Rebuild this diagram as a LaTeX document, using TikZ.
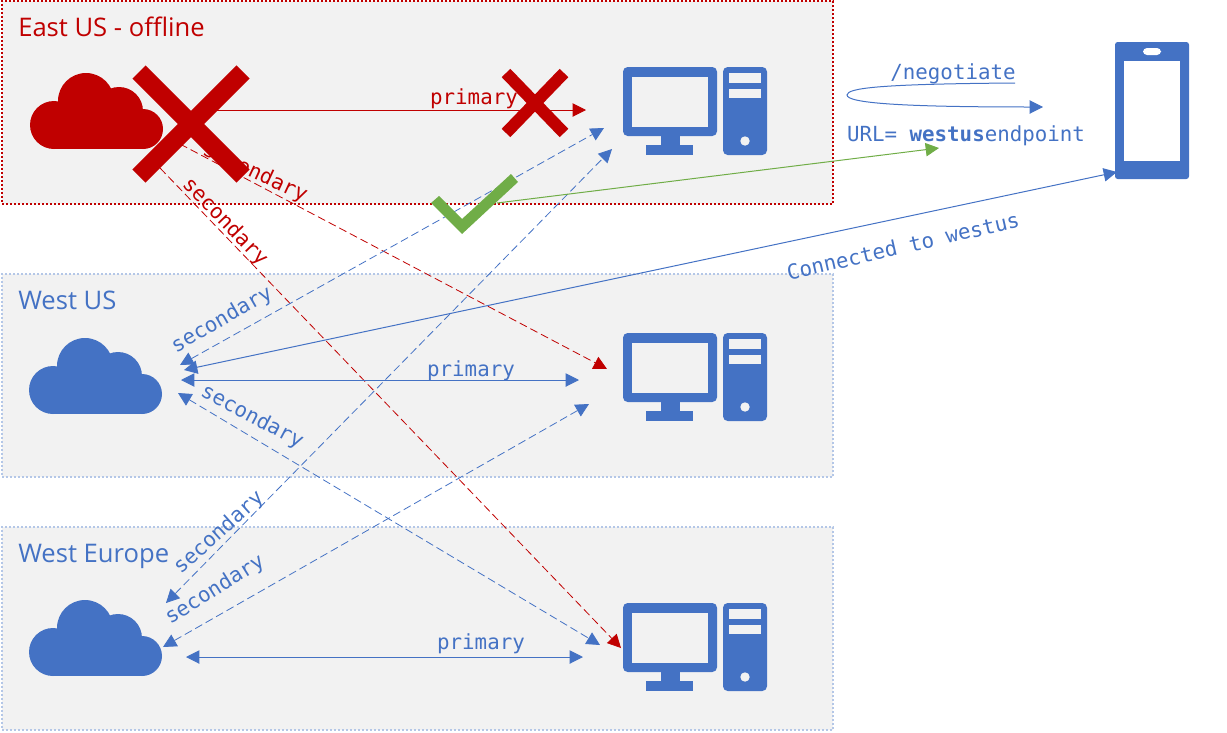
\documentclass[tikz,border=0pt]{standalone}
\usepackage{fontspec}
\setmainfont{Open Sans}
\setmonofont{DejaVu Sans Mono}
\usetikzlibrary{arrows.meta}
\definecolor{AzRed}{HTML}{C00000}
\definecolor{AzBlue}{HTML}{4472C4}
\definecolor{AzGreen}{HTML}{70AD47}
\definecolor{AzGrey}{HTML}{F2F2F2}
\definecolor{AzPale}{HTML}{B4C7E7}
\tikzset{
  regionbox/.style={anchor=north west,fill=AzGrey,inner sep=0pt,outer sep=0pt,minimum width=831*0.75pt,minimum height=203*0.75pt,dash pattern=on 1.5pt off 1.5pt,line width=1.4pt,draw=AzPale},
  regionlabel/.style={anchor=base west,inner sep=0pt,font=\fontsize{19.2}{22}\selectfont,text=AzBlue},
  linklabel/.style={inner sep=0pt,font=\ttfamily\fontsize{15.6}{18}\selectfont,text=AzBlue},
  solidlink/.style={{Triangle[length=10pt,width=10pt]}-{Triangle[length=10pt,width=10pt]},line width=0.75pt,draw=AzBlue},
  dashlink/.style={solidlink,line width=0.6pt,dash pattern=on 6pt off 3pt},
  redlink/.style={-{Triangle[length=10pt,width=10pt]},line width=0.75pt,draw=AzRed},
  reddash/.style={redlink,line width=0.6pt,dash pattern=on 6pt off 3pt},
  greenlink/.style={-{Triangle[length=10pt,width=10pt]},line width=0.75pt,draw=AzGreen},
  crossbar/.style={draw=AzRed},
  cloudicon/.pic={
    \path[pic actions] (24,52) circle (24);
    \path[pic actions] (56,28) circle (28);
    \path[pic actions] (89,38) circle (24);
    \path[pic actions] (113,56) circle (20);
    \path[pic actions] (24,38) rectangle (113,76);
  },
  computericon/.pic={
    \fill[AzBlue,rounded corners=3.5pt] (0,0) rectangle (94,69);
    \fill[AzGrey] (9,10) rectangle (85,60);
    \fill[AzBlue] (38,69) rectangle (57,78);
    \fill[AzBlue] (23,78) rectangle (70,88);
    \fill[AzBlue,rounded corners=3.5pt] (100,0) rectangle (144,88);
    \fill[AzGrey] (106,6) rectangle (138,16);
    \fill[AzGrey] (106,22) rectangle (138,31);
    \fill[AzGrey] (122,74) circle (4.7);
  }
}
\begin{document}
\begin{tikzpicture}[x=0.75pt,y=-0.75pt]
\useasboundingbox (0,0) rectangle (1227,732);
\node[regionbox,draw=AzRed,line width=1.5pt] (eastbox) at (2,1) {};
\node[regionbox] (westbox) at (2,274) {};
\node[regionbox] (europebox) at (2,527) {};
\node[regionlabel,text=AzRed] (eastlabel) at (18,36) {East US - offline};
\node[regionlabel] (westlabel) at (18,309) {West US};
\node[regionlabel] (europelabel) at (18,562) {West Europe};
\pic[fill=AzRed] at (30,73) {cloudicon};
\pic[fill=AzBlue] at (29,338) {cloudicon};
\pic[fill=AzBlue] at (29,600) {cloudicon};
\pic at (623,67) {computericon};
\pic at (623,333) {computericon};
\pic at (623,603) {computericon};
% phone
\fill[AzBlue,rounded corners=2pt] (1115,42) rectangle (1189,179);
\fill[white] (1124,61) rectangle (1180,161);
\fill[white,rounded corners=3pt] (1143,48) rectangle (1161,55);
% link ends
\coordinate (eastout) at (200,110);
\coordinate (eastpc) at (586,110);
\coordinate (eastdashA) at (180,144);
\coordinate (westpcin) at (607,369);
\coordinate (eastdashB) at (160,168);
\coordinate (europepcin) at (621,648);
\coordinate (westup) at (180,365);
\coordinate (eastpcA) at (604,128);
\coordinate (europeup) at (166,603);
\coordinate (eastpcB) at (612,149);
\coordinate (westdown) at (178,393);
\coordinate (europepcB) at (600,645);
\coordinate (europeside) at (163,647);
\coordinate (westpcB) at (589,404);
\coordinate (westleft) at (181,380);
\coordinate (westright) at (579,380);
\coordinate (europeleft) at (186,657);
\coordinate (europeright) at (583,657);
\coordinate (westclient) at (184,370);
\coordinate (phonein) at (1117,172);
\coordinate (checkout) at (497,203);
\coordinate (urltip) at (939,148);
\coordinate (negfrom) at (1015,83);
\coordinate (negback) at (847,95);
\coordinate (negto) at (1043,107);
\draw[redlink] (eastout)--(eastpc);
\draw[reddash] (eastdashA)--(westpcin);
\draw[reddash] (eastdashB)--(europepcin);
\draw[dashlink] (westup)--(eastpcA);
\draw[dashlink] (europeup)--(eastpcB);
\draw[dashlink] (westdown)--(europepcB);
\draw[dashlink] (europeside)--(westpcB);
\draw[solidlink] (westleft)--(westright);
\draw[solidlink] (europeleft)--(europeright);
\draw[solidlink] (westclient)--(phonein);
\draw[greenlink] (checkout)--(urltip);
\draw[redlink,draw=AzBlue] (negfrom) .. controls (880,84) and (847,88) .. (negback) .. controls (847,103) and (900,107) .. (negto);
% labels
\node[linklabel,text=AzRed] (eastprimary) at (474,99) {primary};
\node[linklabel] (westprimary) at (471,371) {primary};
\node[linklabel] (europeprimary) at (481,644) {primary};
\node[linklabel,text=AzRed,rotate=-25] (eastsecA) at (255,173) {secondary};
\node[linklabel,text=AzRed,rotate=-46] (eastsecB) at (225,222) {secondary};
\node[linklabel,rotate=30] (westsecA) at (222,320) {secondary};
\node[linklabel,rotate=-28] (westsecB) at (252,417) {secondary};
\node[linklabel,rotate=42] (europesecA) at (219,533) {secondary};
\node[linklabel,rotate=32] (europesecB) at (215,590) {secondary};
\node[linklabel,rotate=13] (connected) at (903,246) {Connected to westus};
\node[linklabel] (negotiate) at (953,74) {/negotiate};
\node[linklabel] (urllabel) at (966,136) {URL= \textbf{westus}endpoint};
% crosses and check
\draw[crossbar,line width=14pt] (139,72)--(243,176);
\draw[crossbar,line width=14pt] (243,72)--(139,176);
\draw[crossbar,line width=9pt] (506,73)--(564,133);
\draw[crossbar,line width=9pt] (564,73)--(506,133);
\fill[AzGreen] (431,203)--(439,196)--(462,219)--(511,174)--(518,182)--(462,234)--cycle;
\end{tikzpicture}
\end{document}
